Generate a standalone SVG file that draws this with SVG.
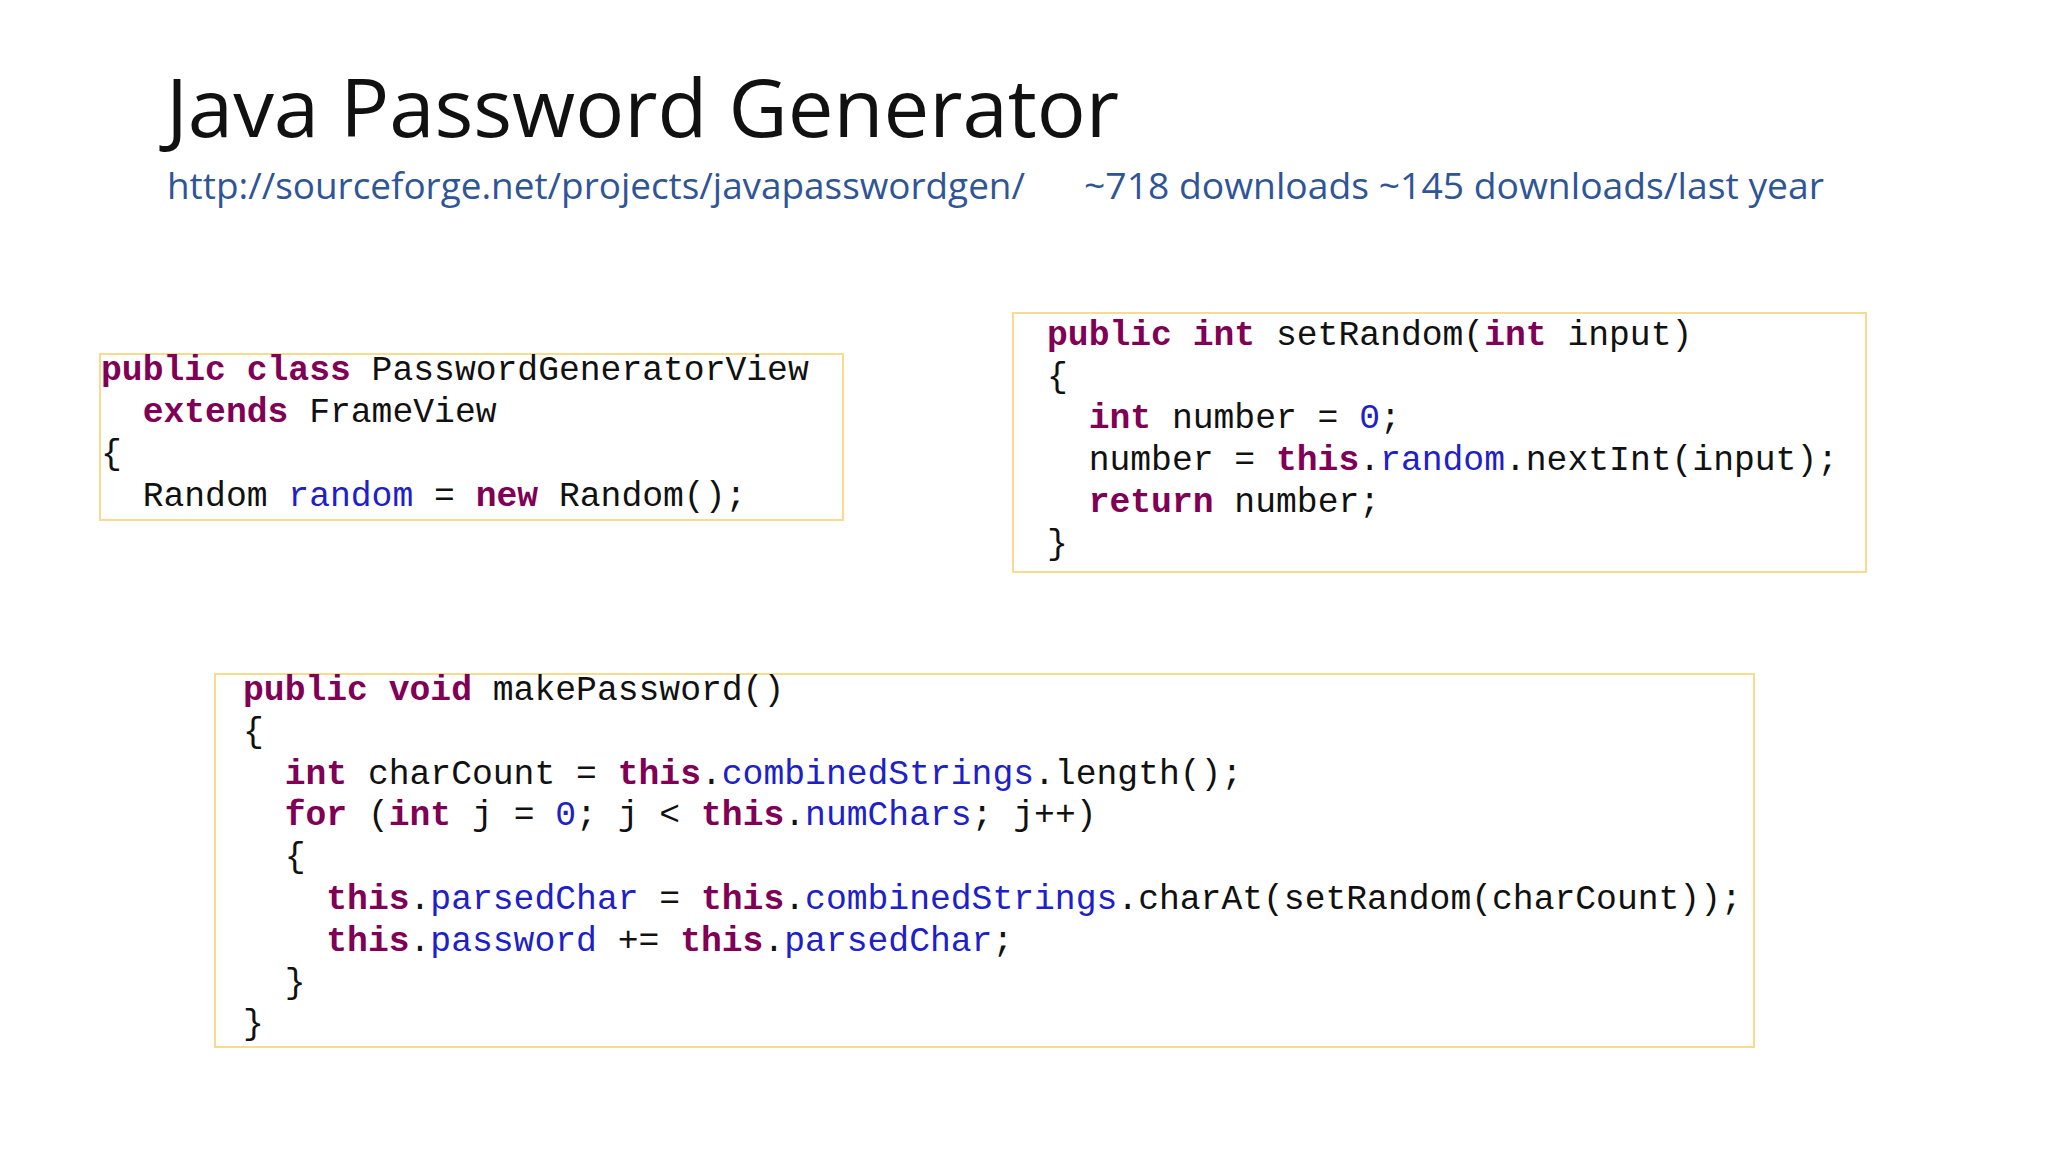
<svg xmlns="http://www.w3.org/2000/svg" width="2048" height="1152" viewBox="0 0 2048 1152">
<style>
.box{fill:#fff;stroke:#f7dc8f;stroke-width:2}
.code{font-family:"Liberation Mono",monospace;font-size:34.7px;fill:#111;white-space:pre}
.k{font-weight:bold;fill:#7f0055}
.f{fill:#2020c8}
.n{fill:#2020c8}
</style>
<rect width="2048" height="1152" fill="#fff"/>
<g id="title">
<text x="166" y="137" font-family="Open Sans, sans-serif" font-size="80" fill="#111" textLength="953" lengthAdjust="spacingAndGlyphs">Java Password Generator</text>
<text x="167" y="199" font-family="Open Sans, sans-serif" font-size="37" fill="#2f5597" textLength="858" lengthAdjust="spacingAndGlyphs">http://sourceforge.net/projects/javapasswordgen/</text>
<text x="1084" y="199" font-family="Open Sans, sans-serif" font-size="37" fill="#2f5597" textLength="740" lengthAdjust="spacingAndGlyphs">~718 downloads  ~145 downloads/last year</text>
</g>
<g id="box1">
<rect class="box" x="100" y="354" width="743" height="166"/>
<text class="code" xml:space="preserve" x="101" y="380"><tspan class="k">public class</tspan> PasswordGeneratorView</text>
<text class="code" xml:space="preserve" x="101" y="422">  <tspan class="k">extends</tspan> FrameView</text>
<text class="code" xml:space="preserve" x="101" y="464">{</text>
<text class="code" xml:space="preserve" x="101" y="506">  Random <tspan class="f">random</tspan> = <tspan class="k">new</tspan> Random();</text>
</g>
<g id="box2">
<rect class="box" x="1013" y="313" width="853" height="259"/>
<text class="code" xml:space="preserve" x="1047" y="345"><tspan class="k">public int</tspan> setRandom(<tspan class="k">int</tspan> input)</text>
<text class="code" xml:space="preserve" x="1047" y="387">{</text>
<text class="code" xml:space="preserve" x="1047" y="428">  <tspan class="k">int</tspan> number = <tspan class="n">0</tspan>;</text>
<text class="code" xml:space="preserve" x="1047" y="470">  number = <tspan class="k">this</tspan>.<tspan class="f">random</tspan>.nextInt(input);</text>
<text class="code" xml:space="preserve" x="1047" y="512">  <tspan class="k">return</tspan> number;</text>
<text class="code" xml:space="preserve" x="1047" y="554">}</text>
</g>
<g id="box3">
<rect class="box" x="215" y="674" width="1539" height="373"/>
<text class="code" xml:space="preserve" x="243" y="700"><tspan class="k">public void</tspan> makePassword()</text>
<text class="code" xml:space="preserve" x="243" y="742">{</text>
<text class="code" xml:space="preserve" x="243" y="784">  <tspan class="k">int</tspan> charCount = <tspan class="k">this</tspan>.<tspan class="f">combinedStrings</tspan>.length();</text>
<text class="code" xml:space="preserve" x="243" y="825">  <tspan class="k">for</tspan> (<tspan class="k">int</tspan> j = <tspan class="n">0</tspan>; j &lt; <tspan class="k">this</tspan>.<tspan class="f">numChars</tspan>; j++)</text>
<text class="code" xml:space="preserve" x="243" y="867">  {</text>
<text class="code" xml:space="preserve" x="243" y="909">    <tspan class="k">this</tspan>.<tspan class="f">parsedChar</tspan> = <tspan class="k">this</tspan>.<tspan class="f">combinedStrings</tspan>.charAt(setRandom(charCount));</text>
<text class="code" xml:space="preserve" x="243" y="951">    <tspan class="k">this</tspan>.<tspan class="f">password</tspan> += <tspan class="k">this</tspan>.<tspan class="f">parsedChar</tspan>;</text>
<text class="code" xml:space="preserve" x="243" y="993">  }</text>
<text class="code" xml:space="preserve" x="243" y="1034">}</text>
</g>
<g id="connectors"/>
</svg>
